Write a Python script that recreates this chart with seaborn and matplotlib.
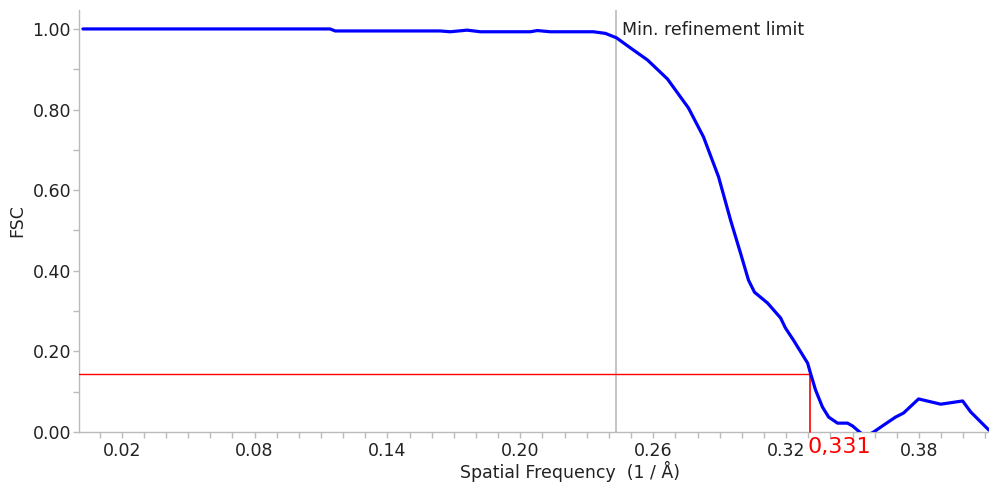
import numpy as np
import pandas as pd
import matplotlib
matplotlib.use("Agg")
import matplotlib.pyplot as plt
import seaborn as sns
from matplotlib.ticker import MultipleLocator, FixedLocator

# ---- data ----
freq = [0.0025, 0.030, 0.060, 0.090, 0.1141, 0.1164, 0.1638, 0.1683, 0.1760, 0.1820,
        0.2045, 0.2077, 0.2135, 0.2270, 0.2330, 0.2384, 0.2434, 0.2497, 0.2574, 0.2664,
        0.2759, 0.2827, 0.2895, 0.2949, 0.2994, 0.3030, 0.3057, 0.3116, 0.3175, 0.3197,
        0.3233, 0.3297, 0.3310, 0.3333, 0.3364, 0.3392, 0.3432, 0.3477, 0.3500, 0.3536,
        0.3563, 0.3595, 0.3640, 0.3694, 0.3730, 0.3798, 0.3898, 0.3997, 0.4033, 0.4115]
fsc = [1.000, 1.000, 1.000, 1.000, 1.000, 0.995, 0.995, 0.993, 0.997, 0.993,
       0.993, 0.996, 0.993, 0.993, 0.993, 0.989, 0.978, 0.953, 0.923, 0.876,
       0.804, 0.732, 0.633, 0.526, 0.444, 0.377, 0.347, 0.320, 0.283, 0.258,
       0.228, 0.171, 0.146, 0.104, 0.062, 0.037, 0.022, 0.022, 0.015, -0.002,
       -0.010, 0.000, 0.017, 0.037, 0.047, 0.082, 0.069, 0.077, 0.050, 0.005]
threshold = 0.143
resolution = 0.331
resolution_label = "0,331"
min_refinement = 0.2434
x_major_ticks = [0.02, 0.08, 0.14, 0.20, 0.26, 0.32, 0.38]
y_major_ticks = [0.0, 0.2, 0.4, 0.6, 0.8, 1.0]

df = pd.DataFrame({"freq": freq, "fsc": fsc})

sns.set_style("ticks")
plt.rcParams["font.family"] = ["DejaVu Sans"]

W, H = 989, 483
fig = plt.figure(figsize=(W / 100, H / 100), dpi=100)
left, bottom, top = 78.7, 432.0, 10.0
ax = fig.add_axes([left / W, (H - bottom) / H, (W - left) / W, (bottom - top) / H])

sns.lineplot(data=df, x="freq", y="fsc", ax=ax, color="#0000ff", linewidth=2.3,
             estimator=None, sort=False, zorder=4)

xmin, xmax = 0.0006, 0.4116
ax.set_xlim(xmin, xmax)
ax.set_ylim(0, 1.047)

FS = 12.5

# threshold lines
ax.plot([xmin, resolution], [threshold, threshold], color="#ff0000", linewidth=1.0, zorder=3)
ax.plot([resolution, resolution], [0, threshold], color="#ff0000", linewidth=1.2, zorder=3,
        clip_on=False)
ax.text(resolution - 0.0015, -0.012, resolution_label, color="#ff0000", fontsize=16,
        ha="left", va="top")

# min refinement limit
ax.axvline(min_refinement, color="#c4c4c4", linewidth=1.4, zorder=2)
ax.text(min_refinement + 0.0025, 0.998, "Min. refinement limit", fontsize=FS,
        color="#222222", ha="left", va="center")

# ticks
ax.xaxis.set_major_locator(FixedLocator(x_major_ticks))
ax.xaxis.set_minor_locator(MultipleLocator(0.01))
ax.yaxis.set_major_locator(FixedLocator(y_major_ticks))
ax.yaxis.set_minor_locator(MultipleLocator(0.1))
ax.set_xticklabels([f"{v:.2f}" for v in x_major_ticks])
ax.set_yticklabels([f"{v:.2f}" for v in y_major_ticks])
ax.tick_params(axis="both", which="both", color="#bbbbbb", labelcolor="#222222",
               labelsize=FS, width=1.0)
ax.tick_params(axis="x", which="both", length=4.5, pad=3)
ax.tick_params(axis="y", which="both", length=4.5, pad=1)

for s in ["top", "right"]:
    ax.spines[s].set_visible(False)
for s in ["left", "bottom"]:
    ax.spines[s].set_color("#bbbbbb")
    ax.spines[s].set_linewidth(1.0)

ax.set_xlabel("Spatial Frequency  (1 / Å)", fontsize=FS, color="#222222")
ax.set_ylabel("FSC", fontsize=FS, color="#222222")
ax.xaxis.set_label_coords((570 - left) / (W - left), -(461 - bottom) / (bottom - top))
ax.yaxis.set_label_coords(-(left - 26) / (W - left), 0.5)

fig.savefig("out.png", dpi=100)
